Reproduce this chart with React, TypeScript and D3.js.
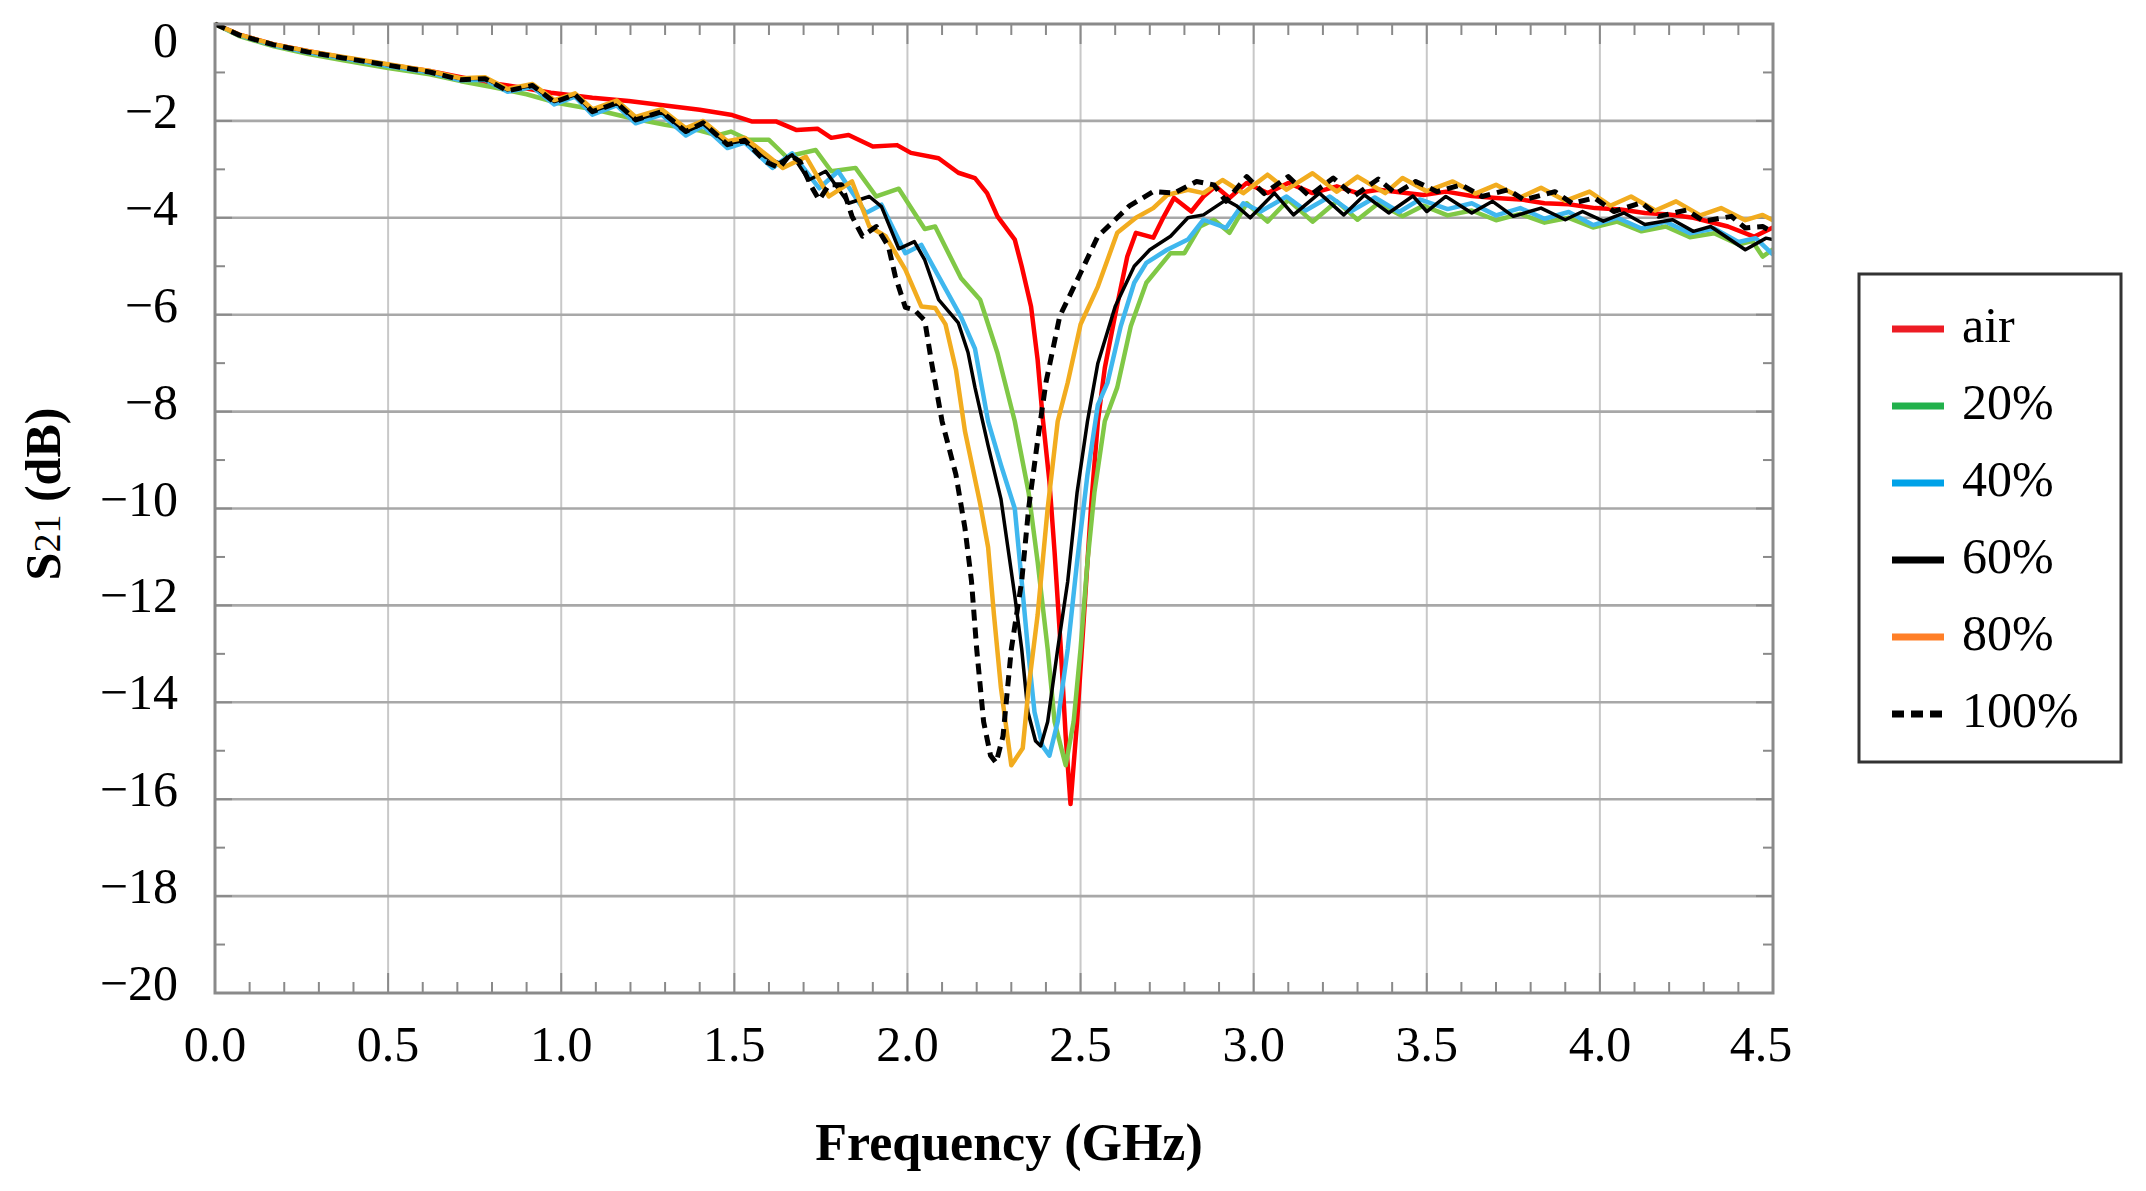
import * as d3 from "d3";

type Pt = [number, number]; // [frequency GHz, S21 dB]

const freqTicks = [0, 0.5, 1, 1.5, 2, 2.5, 3, 3.5, 4, 4.5];
const dbTicks = [0, -2, -4, -6, -8, -10, -12, -14, -16, -18, -20];
const seriesNames = ["air", "20%", "40%", "60%", "80%", "100%"];
const lineColors = ["#ff0000", "#80c846", "#3fb7ee", "#000000", "#f2ac1f", "#000000"];
const legendColors = ["#ed1c24", "#22b14c", "#00a2e8", "#000000", "#ff7f27", "#000000"];

const airData: Pt[] = [
  [0, 0], [0.07, -0.22], [0.17, -0.42], [0.27, -0.56], [0.37, -0.69], [0.5, -0.84], [0.62, -0.97],
  [0.71, -1.1], [0.8, -1.22], [0.9, -1.33], [0.97, -1.42], [1.09, -1.52], [1.195, -1.59], [1.3, -1.68],
  [1.4, -1.77], [1.494, -1.88], [1.55, -2.01], [1.62, -2.01], [1.68, -2.19], [1.74, -2.16], [1.78, -2.35],
  [1.83, -2.29], [1.9, -2.53], [1.97, -2.5], [2.01, -2.66], [2.09, -2.77], [2.147, -3.07], [2.195, -3.18],
  [2.23, -3.49], [2.26, -3.97], [2.31, -4.45], [2.33, -5.0], [2.357, -5.83], [2.376, -6.93], [2.39, -8.08],
  [2.41, -9.44], [2.425, -10.9], [2.443, -12.9], [2.457, -14.7], [2.471, -16.1], [2.49, -14.4], [2.51, -12.2],
  [2.53, -10.0], [2.55, -8.2], [2.57, -7.1], [2.6, -6.0], [2.635, -4.8], [2.66, -4.31], [2.71, -4.41],
  [2.74, -3.98], [2.77, -3.59], [2.82, -3.87], [2.855, -3.56], [2.89, -3.35], [2.93, -3.59], [2.98, -3.28],
  [3.04, -3.49], [3.1, -3.28], [3.17, -3.49], [3.24, -3.35], [3.3, -3.49], [3.36, -3.42], [3.44, -3.49],
  [3.49, -3.53], [3.556, -3.46], [3.63, -3.55], [3.7, -3.59], [3.77, -3.62], [3.84, -3.7], [3.91, -3.72],
  [3.986, -3.8], [4.06, -3.83], [4.13, -3.9], [4.2, -3.93], [4.27, -4.0], [4.37, -4.18], [4.445, -4.39],
  [4.5, -4.2],
];

const p20Data: Pt[] = [
  [0, 0], [0.07, -0.25], [0.17, -0.46], [0.27, -0.62], [0.37, -0.75], [0.5, -0.91], [0.62, -1.04],
  [0.71, -1.18], [0.8, -1.3], [0.9, -1.45], [0.99, -1.63], [1.1, -1.77], [1.2, -1.94], [1.3, -2.08],
  [1.4, -2.2], [1.45, -2.3], [1.49, -2.22], [1.54, -2.39], [1.6, -2.39], [1.65, -2.74], [1.735, -2.6],
  [1.78, -3.04], [1.85, -2.97], [1.91, -3.56], [1.975, -3.4], [2.05, -4.23], [2.08, -4.18], [2.155, -5.25],
  [2.21, -5.69], [2.26, -6.79], [2.31, -8.2], [2.35, -9.67], [2.376, -11.1], [2.405, -12.9], [2.425, -14.4],
  [2.457, -15.3], [2.48, -14.4], [2.5, -12.9], [2.52, -11.1], [2.54, -9.67], [2.57, -8.2], [2.606, -7.5],
  [2.645, -6.24], [2.69, -5.34], [2.76, -4.73], [2.8, -4.73], [2.845, -4.18], [2.885, -4.04], [2.93, -4.31],
  [2.98, -3.7], [3.04, -4.08], [3.1, -3.63], [3.17, -4.08], [3.24, -3.66], [3.3, -4.04], [3.36, -3.7],
  [3.43, -3.97], [3.49, -3.75], [3.56, -3.95], [3.63, -3.85], [3.7, -4.05], [3.77, -3.92], [3.84, -4.1],
  [3.91, -4.0], [3.98, -4.2], [4.05, -4.08], [4.12, -4.28], [4.19, -4.18], [4.26, -4.4], [4.33, -4.32],
  [4.4, -4.55], [4.44, -4.48], [4.47, -4.8], [4.5, -4.65],
];

const p40Data: Pt[] = [
  [0, 0], [0.07, -0.23], [0.17, -0.44], [0.27, -0.59], [0.37, -0.71], [0.5, -0.87], [0.62, -1.0],
  [0.71, -1.16], [0.78, -1.15], [0.845, -1.4], [0.917, -1.3], [0.98, -1.66], [1.04, -1.5], [1.09, -1.87],
  [1.16, -1.68], [1.215, -2.05], [1.29, -1.87], [1.36, -2.3], [1.41, -2.1], [1.48, -2.56], [1.53, -2.45],
  [1.61, -2.97], [1.667, -2.67], [1.745, -3.39], [1.8, -3.04], [1.88, -3.9], [1.925, -3.73], [1.994, -4.73],
  [2.04, -4.56], [2.09, -5.21], [2.155, -6.05], [2.195, -6.7], [2.233, -8.2], [2.27, -9.1], [2.31, -10.0],
  [2.33, -11.5], [2.348, -12.9], [2.367, -14.2], [2.39, -14.9], [2.41, -15.1], [2.434, -14.4], [2.463, -12.9],
  [2.49, -11.1], [2.52, -9.3], [2.55, -7.86], [2.578, -7.4], [2.616, -6.24], [2.655, -5.34], [2.69, -4.93],
  [2.75, -4.66], [2.81, -4.45], [2.855, -4.04], [2.92, -4.21], [2.97, -3.7], [3.02, -3.87], [3.095, -3.56],
  [3.15, -3.85], [3.22, -3.56], [3.28, -3.87], [3.35, -3.58], [3.42, -3.88], [3.48, -3.62], [3.56, -3.82],
  [3.63, -3.7], [3.7, -3.95], [3.77, -3.8], [3.84, -4.02], [3.91, -3.88], [3.98, -4.15], [4.05, -4.0],
  [4.12, -4.22], [4.19, -4.08], [4.26, -4.32], [4.33, -4.22], [4.4, -4.5], [4.45, -4.42], [4.5, -4.76],
];

const p60Data: Pt[] = [
  [0, 0], [0.07, -0.22], [0.17, -0.42], [0.27, -0.57], [0.37, -0.69], [0.5, -0.84], [0.62, -0.98],
  [0.71, -1.13], [0.78, -1.12], [0.845, -1.36], [0.917, -1.27], [0.98, -1.6], [1.04, -1.46], [1.09, -1.8],
  [1.16, -1.63], [1.215, -1.98], [1.29, -1.82], [1.36, -2.22], [1.41, -2.06], [1.48, -2.47], [1.53, -2.4],
  [1.59, -2.75], [1.63, -2.87], [1.667, -2.7], [1.715, -3.22], [1.764, -3.04], [1.83, -3.7], [1.89, -3.56],
  [1.925, -3.77], [1.975, -4.64], [2.02, -4.49], [2.05, -4.87], [2.09, -5.69], [2.147, -6.17], [2.175, -6.78],
  [2.195, -7.5], [2.233, -8.7], [2.27, -9.8], [2.29, -10.8], [2.31, -11.8], [2.33, -12.9], [2.348, -14.2],
  [2.37, -14.8], [2.385, -14.9], [2.405, -14.4], [2.434, -12.9], [2.463, -11.5], [2.49, -9.67], [2.52, -8.2],
  [2.55, -7.0], [2.6, -5.83], [2.655, -5.0], [2.7, -4.66], [2.76, -4.38], [2.81, -4.0], [2.855, -3.94],
  [2.92, -3.63], [2.95, -3.75], [2.99, -4.0], [3.06, -3.49], [3.115, -3.94], [3.19, -3.49], [3.26, -3.94],
  [3.32, -3.53], [3.39, -3.9], [3.46, -3.55], [3.5, -3.87], [3.555, -3.56], [3.63, -3.9], [3.69, -3.66],
  [3.75, -3.97], [3.83, -3.8], [3.9, -4.04], [3.95, -3.87], [4.01, -4.07], [4.07, -3.9], [4.13, -4.14],
  [4.21, -4.04], [4.27, -4.28], [4.32, -4.18], [4.42, -4.66], [4.48, -4.42], [4.5, -4.45],
];

const p80Data: Pt[] = [
  [0, 0], [0.07, -0.22], [0.17, -0.42], [0.27, -0.56], [0.37, -0.68], [0.5, -0.83], [0.62, -0.97],
  [0.71, -1.12], [0.78, -1.1], [0.845, -1.34], [0.917, -1.24], [0.98, -1.57], [1.04, -1.43], [1.09, -1.76],
  [1.16, -1.58], [1.215, -1.92], [1.29, -1.76], [1.36, -2.15], [1.41, -2.0], [1.48, -2.42], [1.53, -2.35],
  [1.6, -2.74], [1.64, -2.97], [1.707, -2.74], [1.773, -3.56], [1.84, -3.25], [1.89, -4.18], [1.937, -4.38],
  [1.994, -5.07], [2.04, -5.83], [2.08, -5.86], [2.11, -6.2], [2.14, -7.13], [2.166, -8.4], [2.21, -9.9],
  [2.233, -10.8], [2.25, -12.2], [2.27, -13.7], [2.3, -15.3], [2.333, -14.95], [2.35, -13.7], [2.376, -12.2],
  [2.405, -10.0], [2.434, -8.2], [2.463, -7.4], [2.5, -6.2], [2.55, -5.42], [2.606, -4.31], [2.66, -4.0],
  [2.71, -3.8], [2.75, -3.53], [2.81, -3.42], [2.855, -3.49], [2.91, -3.22], [2.97, -3.49], [3.04, -3.11],
  [3.095, -3.42], [3.17, -3.08], [3.24, -3.46], [3.3, -3.15], [3.38, -3.49], [3.43, -3.18], [3.5, -3.45],
  [3.575, -3.25], [3.64, -3.5], [3.7, -3.32], [3.77, -3.58], [3.83, -3.38], [3.9, -3.65], [3.97, -3.46],
  [4.03, -3.75], [4.09, -3.56], [4.16, -3.85], [4.22, -3.66], [4.29, -3.95], [4.35, -3.8], [4.42, -4.05],
  [4.47, -3.94], [4.5, -4.05],
];

const p100Data: Pt[] = [
  [0, 0], [0.07, -0.23], [0.17, -0.43], [0.27, -0.58], [0.37, -0.7], [0.5, -0.85], [0.62, -0.99],
  [0.71, -1.15], [0.78, -1.13], [0.845, -1.38], [0.917, -1.27], [0.98, -1.61], [1.04, -1.46], [1.09, -1.81],
  [1.16, -1.63], [1.215, -1.98], [1.29, -1.81], [1.36, -2.22], [1.41, -2.04], [1.48, -2.49], [1.53, -2.4],
  [1.59, -2.84], [1.63, -2.97], [1.66, -2.7], [1.69, -2.84], [1.72, -3.32], [1.745, -3.63], [1.773, -3.32],
  [1.81, -3.32], [1.84, -3.97], [1.87, -4.38], [1.91, -4.18], [1.945, -4.59], [1.965, -5.21], [1.994, -5.85],
  [2.02, -5.9], [2.05, -6.12], [2.07, -7.0], [2.1, -8.2], [2.14, -9.3], [2.166, -10.4], [2.185, -11.5],
  [2.2, -12.9], [2.22, -14.4], [2.24, -15.1], [2.256, -15.25], [2.276, -14.7], [2.3, -12.9], [2.33, -11.5],
  [2.35, -10.0], [2.376, -8.6], [2.4, -7.4], [2.44, -6.03], [2.5, -5.14], [2.55, -4.38], [2.6, -4.04],
  [2.64, -3.76], [2.71, -3.46], [2.77, -3.49], [2.835, -3.25], [2.885, -3.32], [2.92, -3.66], [2.98, -3.15],
  [3.03, -3.5], [3.1, -3.15], [3.16, -3.55], [3.23, -3.18], [3.29, -3.55], [3.36, -3.2], [3.41, -3.5],
  [3.468, -3.25], [3.53, -3.46], [3.6, -3.32], [3.66, -3.56], [3.735, -3.42], [3.78, -3.63], [3.87, -3.46],
  [3.92, -3.7], [3.985, -3.59], [4.04, -3.87], [4.12, -3.69], [4.17, -3.97], [4.25, -3.84], [4.3, -4.07],
  [4.38, -3.97], [4.42, -4.21], [4.47, -4.18], [4.5, -4.3],
];

const seriesData = [airData, p20Data, p40Data, p60Data, p80Data, p100Data];

const W = 2146;
const H = 1191;
const left = 215;
const right = 1773;
const top = 24;
const bottom = 993;
const serif = "'Liberation Serif', 'Times New Roman', serif";

export default function App() {
  const x = d3.scaleLinear().domain([0, 4.5]).range([left, right]);
  const y = d3.scaleLinear().domain([0, -20]).range([top, bottom]);
  const line = d3
    .line<Pt>()
    .x((d) => x(d[0]))
    .y((d) => y(d[1]));

  const minorX = d3.range(0, 46).map((i) => i / 10);
  const minorY = d3.range(0, 21).map((i) => -i);

  return (
    <svg
      width={W}
      height={H}
      style={{ position: "absolute", left: 0, top: 0, background: "#fff" }}
      fontFamily={serif}
    >
      {/* vertical grid */}
      {freqTicks.slice(1, -1).map((f) => (
        <line key={"vx" + f} x1={x(f)} x2={x(f)} y1={top} y2={bottom} stroke="#c8c8c8" strokeWidth={2} />
      ))}
      {/* horizontal grid */}
      {dbTicks.slice(1, -1).map((v) => (
        <line key={"hy" + v} x1={left} x2={right} y1={y(v)} y2={y(v)} stroke="#a8a8a8" strokeWidth={2.6} />
      ))}

      {/* inward ticks on all sides */}
      {minorX.map((f, i) => {
        const len = i % 5 === 0 ? 20 : 11;
        return (
          <g key={"tx" + i} stroke="#8a8a8a" strokeWidth={2}>
            <line x1={x(f)} x2={x(f)} y1={bottom} y2={bottom - len} />
            <line x1={x(f)} x2={x(f)} y1={top} y2={top + len} />
          </g>
        );
      })}
      {minorY.map((v, i) => {
        const len = i % 2 === 0 ? 17 : 10;
        return (
          <g key={"ty" + i} stroke="#8a8a8a" strokeWidth={2}>
            <line x1={left} x2={left + len} y1={y(v)} y2={y(v)} />
            <line x1={right} x2={right - len} y1={y(v)} y2={y(v)} />
          </g>
        );
      })}

      {/* curves */}
      {seriesData.map((data, i) => (
        <path
          key={seriesNames[i]}
          d={line(data) ?? ""}
          fill="none"
          stroke={lineColors[i]}
          strokeWidth={i === 5 ? 5 : i === 3 ? 3.5 : 4.5}
          strokeDasharray={i === 5 ? "11 7" : undefined}
          strokeLinejoin="round"
        />
      ))}

      {/* plot frame */}
      <rect x={left} y={top} width={right - left} height={bottom - top} fill="none" stroke="#8a8a8a" strokeWidth={3} />

      {/* y tick labels */}
      {dbTicks.map((v) => (
        <text
          key={"ly" + v}
          x={178}
          y={y(v) + (v === 0 ? 33 : 7)}
          textAnchor="end"
          fontSize={50}
          fill="#000"
        >
          {v === 0 ? "0" : "\u2212" + Math.abs(v)}
        </text>
      ))}
      {/* x tick labels */}
      {freqTicks.map((f, i) => (
        <text
          key={"lx" + f}
          x={x(f) - (i === freqTicks.length - 1 ? 12 : 0)}
          y={1061}
          textAnchor="middle"
          fontSize={50}
          fill="#000"
        >
          {f.toFixed(1)}
        </text>
      ))}

      {/* axis titles */}
      <text x={(left + right) / 2 + 15} y={1160} textAnchor="middle" fontSize={52} fontWeight="bold">
        Frequency (GHz)
      </text>
      <text transform="translate(60,494) rotate(-90)" textAnchor="middle" fontSize={50} fontWeight="bold">
        S<tspan fontSize={38} fontWeight="normal">21</tspan> (dB)
      </text>

      {/* legend */}
      <rect x={1859} y={274} width={262} height={488} fill="#fff" stroke="#333" strokeWidth={3} />
      {seriesNames.map((name, i) => {
        const ly = 329 + i * 77;
        return (
          <g key={"lg" + name}>
            <line
              x1={1892}
              x2={1944}
              y1={ly}
              y2={ly}
              stroke={legendColors[i]}
              strokeWidth={7}
              strokeDasharray={i === 5 ? "12 7" : undefined}
            />
            <text x={1962} y={ly + 13} fontSize={50} fill="#000">
              {name}
            </text>
          </g>
        );
      })}
    </svg>
  );
}
